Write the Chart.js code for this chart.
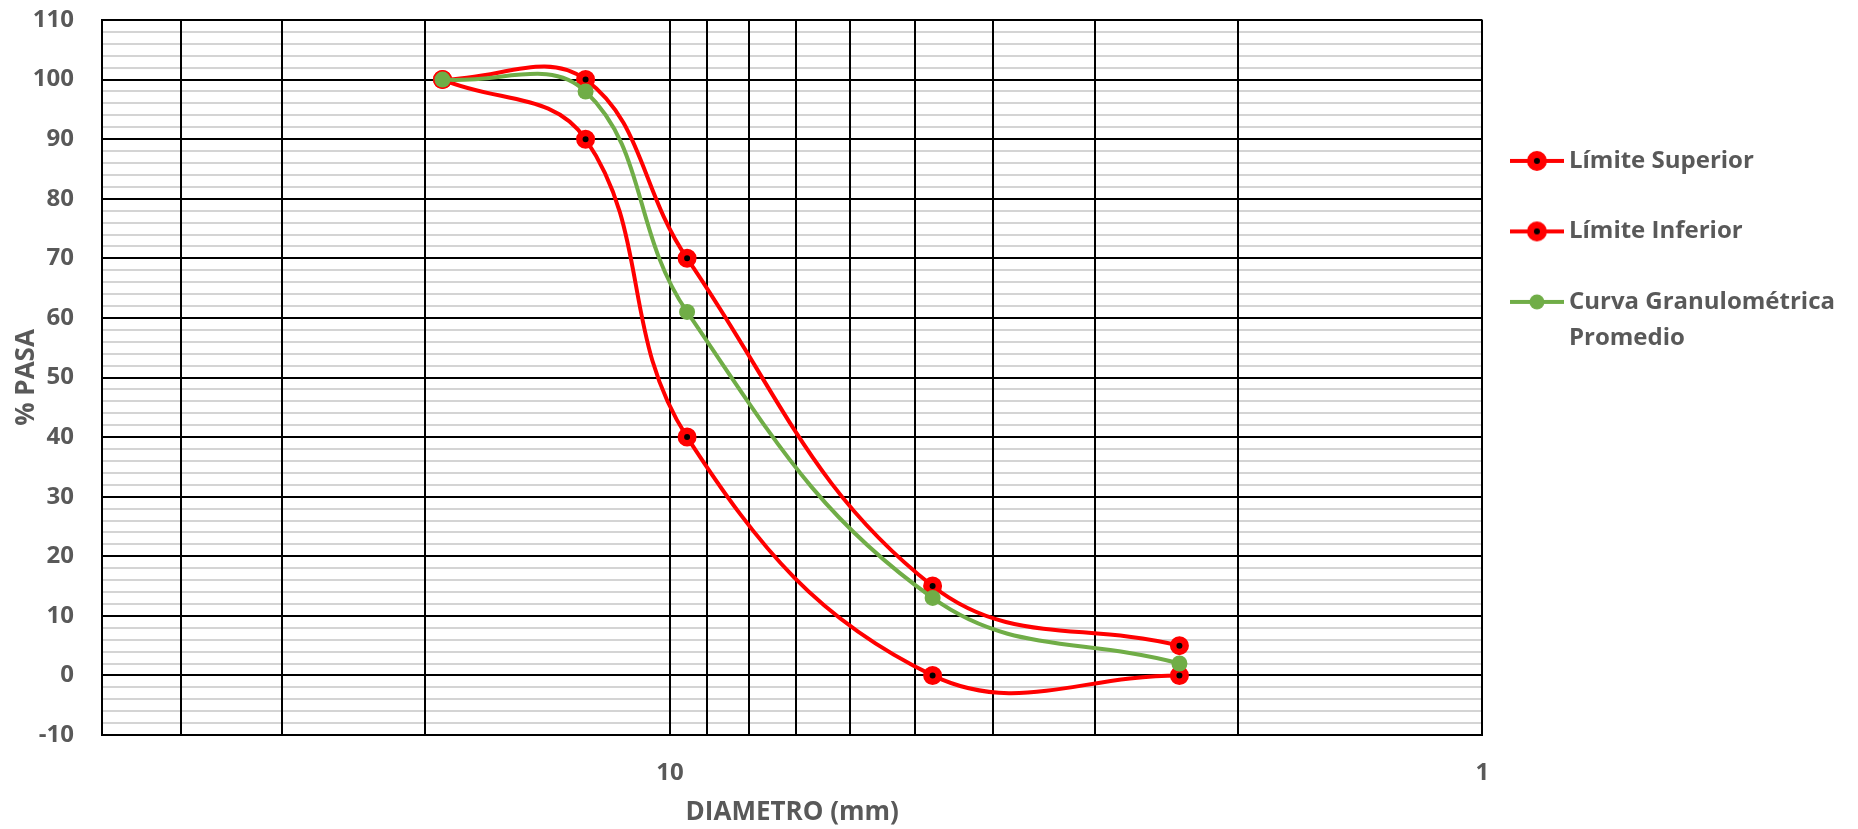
<!DOCTYPE html>
<html>
<head>
<meta charset="utf-8">
<title>Curva granulométrica</title>
<script src="https://cdn.jsdelivr.net/npm/chart.js@4.4.0/dist/chart.umd.min.js"></script>
<style>
  html, body { margin: 0; padding: 0; background: #ffffff; }
  #contenedor { width: 1858px; height: 829px; }
</style>
</head>
<body>
<div id="contenedor"><canvas id="granulometria"></canvas></div>
<script>
// Abertura de tamices (mm): 3/4", 1/2", 3/8", N°4, N°8
const diametros = [19.05, 12.7, 9.525, 4.75, 2.36];
// % que pasa
const limiteSuperior = [100, 100, 70, 15, 5];
const limiteInferior = [100, 90, 40, 0, 0];
const curvaPromedio = [100, 98, 61, 13, 2];

const nombresSeries = [['Límite Superior'], ['Límite Inferior'], ['Curva Granulométrica', 'Promedio']];

// Eje X logarítmico (invertido): una línea vertical por cada unidad
const ticksX = [1, 2, 3, 4, 5, 6, 7, 8, 9, 10, 20, 30, 40, 50];
const etiquetasX = [1, 10];
const ejeXMin = 1;
const ejeXMax = 50;

// Eje Y: líneas principales cada 10, secundarias cada 2
const ejeYMin = -10;
const ejeYMax = 110;
const pasoMayorY = 10;
const pasoMenorY = 2;

const fuente = "'Open Sans', sans-serif";
const grisTexto = '#595959';
const rojo = '#ff0000';
const verde = '#70ad47';

function puntos(valores) {
    return diametros.map((d, i) => ({ x: d, y: valores[i] }));
}

// Muestra de la leyenda: tramo de línea con su marcador
function muestraLeyenda(color, relleno, radio, borde) {
    let c = document.createElement('canvas');
    c.width = 54;
    c.height = 24;
    let ctx = c.getContext('2d');
    ctx.strokeStyle = color;
    ctx.lineWidth = 4;
    ctx.beginPath();
    ctx.moveTo(0, 12);
    ctx.lineTo(54, 12);
    ctx.stroke();
    ctx.beginPath();
    ctx.arc(27, 12, radio, 0, Math.PI * 2);
    ctx.fillStyle = relleno;
    ctx.fill();
    if (borde) {
        ctx.lineWidth = borde;
        ctx.strokeStyle = color;
        ctx.stroke();
    }
    return c;
}

const muestras = [
    muestraLeyenda(rojo, '#000000', 6.5, 7),
    muestraLeyenda(rojo, '#000000', 6.5, 7),
    muestraLeyenda(verde, verde, 7.5, 0)
];

Chart.defaults.font.family = fuente;
Chart.defaults.font.weight = 'bold';
Chart.defaults.color = grisTexto;

new Chart(document.getElementById('granulometria'), {
    type: 'line',
    data: {
        datasets: [{
                label: 'Límite Superior',
                data: puntos(limiteSuperior),
                borderColor: rojo,
                borderWidth: 4,
                pointRadius: 6.25,
                pointBorderWidth: 6.5,
                pointBackgroundColor: '#000000',
                pointBorderColor: rojo,
                tension: 0.4,
                order: 2
            }, {
                label: 'Límite Inferior',
                data: puntos(limiteInferior),
                borderColor: rojo,
                borderWidth: 4,
                pointRadius: 6.25,
                pointBorderWidth: 6.5,
                pointBackgroundColor: '#000000',
                pointBorderColor: rojo,
                tension: 0.4,
                order: 1
            }, {
                label: 'Curva Granulométrica Promedio',
                data: puntos(curvaPromedio),
                borderColor: verde,
                borderWidth: 4,
                pointRadius: 8,
                pointBorderWidth: 0,
                pointBackgroundColor: verde,
                pointBorderColor: verde,
                tension: 0.4,
                order: 0
            }]
    },
    options: {
        responsive: true,
        maintainAspectRatio: false,
        animation: false,
        layout: {
            padding: { left: 0, right: 13, top: 20, bottom: 0 }
        },
        scales: {
            x: {
                type: 'logarithmic',
                reverse: true,
                min: ejeXMin,
                max: ejeXMax,
                afterBuildTicks: axis => {
                    axis.ticks = ticksX.map(v => ({ value: v }));
                },
                // alto fijo: etiquetas + título, sin doble margen
                afterFit: axis => {
                    axis.height = 94;
                },
                ticks: {
                    autoSkip: false,
                    maxRotation: 0,
                    padding: 24,
                    font: { size: 24, weight: 'bold' },
                    color: grisTexto,
                    callback: v => etiquetasX.includes(v) ? String(v) : ''
                },
                // verticales por encima de las horizontales secundarias
                grid: { color: '#000000', lineWidth: 2, drawTicks: false, z: -1 },
                border: { color: '#000000', width: 2 },
                title: {
                    display: true,
                    text: 'DIAMETRO (mm)',
                    color: grisTexto,
                    font: { size: 26, weight: 'bold' },
                    padding: { top: 2, bottom: 1 }
                }
            },
            y: {
                type: 'linear',
                min: ejeYMin,
                max: ejeYMax,
                afterBuildTicks: axis => {
                    let t = [];
                    for (let v = ejeYMin; v <= ejeYMax; v += pasoMenorY) {
                        t.push({ value: v });
                    }
                    axis.ticks = t;
                },
                afterFit: axis => {
                    axis.width = 102;
                    axis.paddingTop = 0;
                    axis.paddingBottom = 0;
                },
                ticks: {
                    autoSkip: false,
                    padding: 28,
                    font: { size: 24, weight: 'bold' },
                    color: grisTexto,
                    callback: v => v % pasoMayorY === 0 ? String(v) : ''
                },
                grid: {
                    drawTicks: false,
                    lineWidth: 2,
                    z: -2,
                    color: c => (c.tick && c.tick.value % pasoMayorY === 0) ? '#000000' : '#d4d4d4'
                },
                border: { color: '#000000', width: 2 },
                title: {
                    display: true,
                    text: '% PASA',
                    color: grisTexto,
                    font: { size: 26, weight: 'bold' },
                    padding: { top: 11, bottom: 0 }
                }
            }
        },
        plugins: {
            tooltip: { enabled: false },
            legend: {
                position: 'right',
                align: 'start',
                // espacio libre sobre la primera entrada
                title: { display: true, text: '', padding: { top: 80, bottom: 0 } },
                labels: {
                    usePointStyle: true,
                    pointStyleWidth: 40,
                    padding: 34.5,
                    color: grisTexto,
                    font: { size: 24, weight: 'bold', lineHeight: 1.5 },
                    sort: (a, b) => a.datasetIndex - b.datasetIndex,
                    generateLabels: chart => chart.data.datasets.map((ds, i) => ({
                        text: nombresSeries[i],
                        pointStyle: muestras[i],
                        fontColor: grisTexto,
                        fillStyle: 'transparent',
                        strokeStyle: 'transparent',
                        lineWidth: 0,
                        hidden: false,
                        datasetIndex: i
                    }))
                }
            }
        }
    }
});
</script>
</body>
</html>
